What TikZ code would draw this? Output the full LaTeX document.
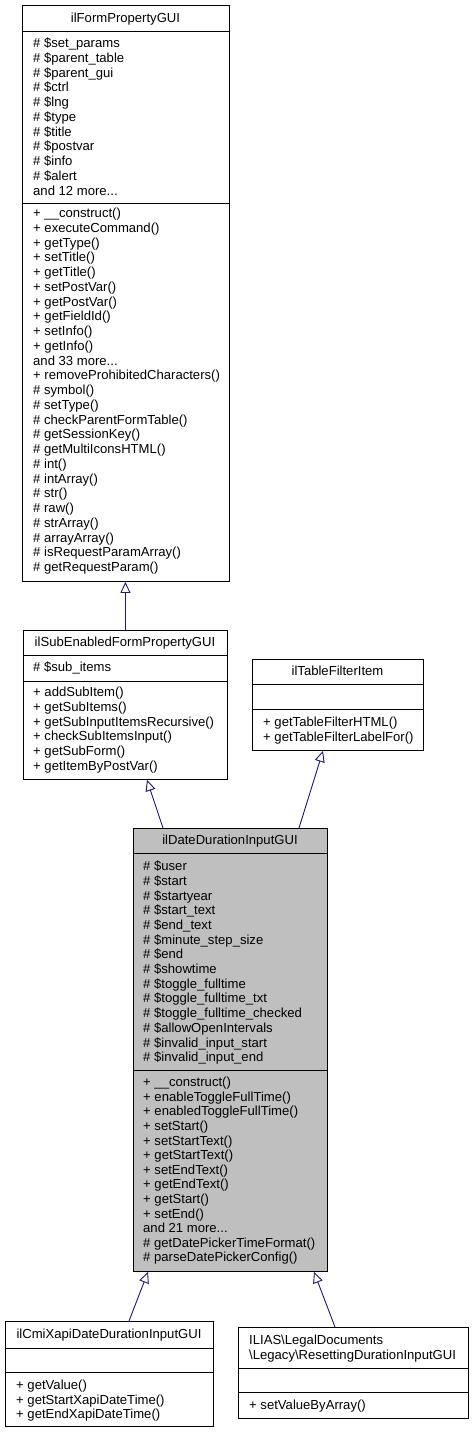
\documentclass[tikz,border=0pt]{standalone}
\usepackage{fontspec}
\setmainfont{Liberation Sans}
\usetikzlibrary{arrows.meta,calc}
\definecolor{edgeblue}{HTML}{191970}
\definecolor{ddgray}{HTML}{BFBFBF}
\newcommand\mydots{...}
\begin{document}
\begin{tikzpicture}[x=1pt,y=-1pt,
  box/.style={draw=black,line width=0.9pt,inner sep=0pt,anchor=north west},
  sep/.style={draw=black,line width=0.9pt},
  txt/.style={inner sep=0pt,anchor=base west,font=\fontsize{13.1}{14.7}\selectfont},
  ttl/.style={inner sep=0pt,anchor=base,font=\fontsize{13.1}{14.7}\selectfont},
  inh/.style={draw=edgeblue,line width=0.9pt,-{Triangle[open,length=11pt,width=10pt,fill=white]}}]
\useasboundingbox (0,0) rectangle (474,1432);
% ilFormPropertyGUI
\node[box,minimum width=207pt,minimum height=576pt] (fp) at (22,5) {};
\draw[sep] (22,31) -- (229,31);
\draw[sep] (22,203) -- (229,203);
\node[ttl] (fpt) at (125.5,22.6) {ilFormPropertyGUI};
\foreach \t [count=\i from 0] in {{\# \$set\_params},{\# \$parent\_table},{\# \$parent\_gui},{\# \$ctrl},{\# \$lng},{\# \$type},{\# \$title},{\# \$postvar},{\# \$info},{\# \$alert},{and 12 more\mydots}}
  \node[txt] (fpa\i) at (33,47.6+\i*14.75) {\t};
\foreach \t [count=\i from 0] in {{+ \_\_construct()},{+ executeCommand()},{+ getType()},{+ setTitle()},{+ getTitle()},{+ setPostVar()},{+ getPostVar()},{+ getFieldId()},{+ setInfo()},{+ getInfo()},{and 33 more\mydots},{+ removeProhibitedCharacters()},{\# symbol()},{\# setType()},{\# checkParentFormTable()},{\# getSessionKey()},{\# getMultiIconsHTML()},{\# int()},{\# intArray()},{\# str()},{\# raw()},{\# strArray()},{\# arrayArray()},{\# isRequestParamArray()},{\# getRequestParam()}}
  \node[txt] (fpm\i) at (33,217.6+\i*14.75) {\t};
% ilSubEnabledFormPropertyGUI
\node[box,minimum width=204pt,minimum height=149pt] (se) at (23,630) {};
\draw[sep] (23,655) -- (227,655);
\draw[sep] (23,681) -- (227,681);
\node[ttl] (set) at (125,646.6) {ilSubEnabledFormPropertyGUI};
\node[txt] (sea0) at (33,671.6) {\# \$sub\_items};
\foreach \t [count=\i from 0] in {{+ addSubItem()},{+ getSubItems()},{+ getSubInputItemsRecursive()},{+ checkSubItemsInput()},{+ getSubForm()},{+ getItemByPostVar()}}
  \node[txt] (sem\i) at (33,696.6+\i*14.75) {\t};
% ilTableFilterItem
\node[box,minimum width=171pt,minimum height=91pt] (tf) at (252,659) {};
\draw[sep] (252,684) -- (423,684);
\draw[sep] (252,709) -- (423,709);
\node[ttl] (tft) at (337.5,675.6) {ilTableFilterItem};
\node[txt] (tfm0) at (263,726.6) {+ getTableFilterHTML()};
\node[txt] (tfm1) at (263,741.3) {+ getTableFilterLabelFor()};
% ilDateDurationInputGUI
\node[box,fill=ddgray,minimum width=194pt,minimum height=443pt] (dd) at (133,828) {};
\draw[sep] (133,853) -- (327,853);
\draw[sep] (133,1070) -- (327,1070);
\node[ttl] (ddt) at (230,844.6) {ilDateDurationInputGUI};
\foreach \t [count=\i from 0] in {{\# \$user},{\# \$start},{\# \$startyear},{\# \$start\_text},{\# \$end\_text},{\# \$minute\_step\_size},{\# \$end},{\# \$showtime},{\# \$toggle\_fulltime},{\# \$toggle\_fulltime\_txt},{\# \$toggle\_fulltime\_checked},{\# \$allowOpenIntervals},{\# \$invalid\_input\_start},{\# \$invalid\_input\_end}}
  \node[txt] (dda\i) at (143,870.6+\i*14.7) {\t};
\foreach \t [count=\i from 0] in {{+ \_\_construct()},{+ enableToggleFullTime()},{+ enabledToggleFullTime()},{+ setStart()},{+ setStartText()},{+ getStartText()},{+ setEndText()},{+ getEndText()},{+ getStart()},{+ setEnd()},{and 21 more\mydots},{\# getDatePickerTimeFormat()},{\# parseDatePickerConfig()}}
  \node[txt] (ddm\i) at (143,1086.6+\i*14.6) {\t};
% ilCmiXapiDateDurationInputGUI
\node[box,minimum width=208pt,minimum height=105pt] (cx) at (5,1321) {};
\draw[sep] (5,1348) -- (213,1348);
\draw[sep] (5,1372) -- (213,1372);
\node[ttl] (cxt) at (109,1338.6) {ilCmiXapiDateDurationInputGUI};
\foreach \t [count=\i from 0] in {{+ getValue()},{+ getStartXapiDateTime()},{+ getEndXapiDateTime()}}
  \node[txt] (cxm\i) at (16,1389.6+\i*14.6) {\t};
% ILIAS\LegalDocuments\Legacy\ResettingDurationInputGUI
\node[box,minimum width=230pt,minimum height=91pt] (rs) at (238,1327) {};
\draw[sep] (238,1368) -- (468,1368);
\draw[sep] (238,1392) -- (468,1392);
\node[txt] (rst0) at (249,1344.6) {ILIAS\textbackslash LegalDocuments};
\node[txt] (rst1) at (249,1359.3) {\textbackslash Legacy\textbackslash ResettingDurationInputGUI};
\node[txt] (rsm0) at (249,1409.6) {+ setValueByArray()};
% inheritance connectors
\draw[inh] (se.north) -- (se.north |- fp.south);
\draw[inh] ($(dd.north west)+(30,0)$) -- ($(se.south west)+(124,0)$);
\draw[inh] ($(dd.north west)+(166,0)$) -- ($(tf.south west)+(71,0)$);
\draw[inh] ($(cx.north west)+(124,0)$) -- ($(dd.south west)+(15,0)$);
\draw[inh] ($(rs.north west)+(97,0)$) -- ($(dd.south west)+(181,0)$);
\end{tikzpicture}
\end{document}
